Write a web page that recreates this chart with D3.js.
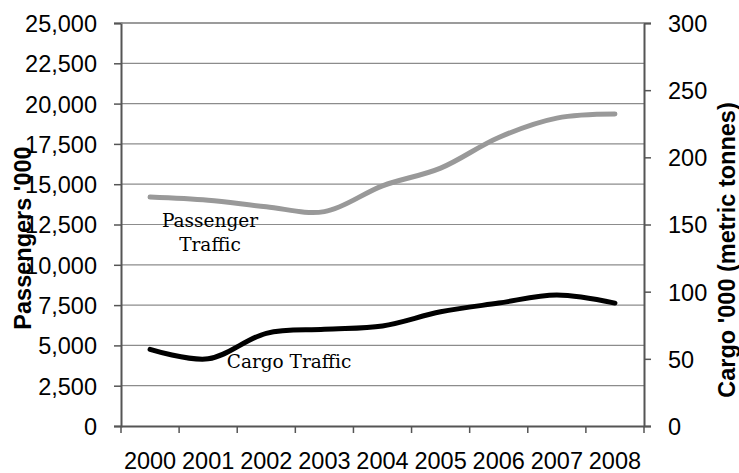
<!DOCTYPE html>
<html>
<head>
<meta charset="utf-8">
<script src="https://cdn.jsdelivr.net/npm/d3@7"></script>
<style>
  body { margin: 0; background: #fff; }
  svg text { font-family: "Liberation Sans", Arial, sans-serif; }
</style>
</head>
<body>
<svg id="chart" width="739" height="473"></svg>
<script>
// data
const years = ["2000", "2001", "2002", "2003", "2004", "2005", "2006", "2007", "2008"];
const passengers = [14200, 14000, 13600, 13300, 14900, 16000, 17900, 19100, 19350];
const cargo = [57, 50, 69, 72, 74.5, 85, 91.5, 97.5, 91.5];
const leftTicks = [0, 2500, 5000, 7500, 10000, 12500, 15000, 17500, 20000, 22500, 25000];
const rightTicks = [0, 50, 100, 150, 200, 250, 300];

const plotLeft = 121, plotRight = 644, plotTop = 23, plotBottom = 426;

const svg = d3.select("#chart");

const x = d3.scaleBand().domain(years).range([plotLeft, plotRight]).padding(0);
const yL = d3.scaleLinear().domain([0, 25000]).range([plotBottom, plotTop]);
const yR = d3.scaleLinear().domain([0, 300]).range([plotBottom, plotTop]);

const fmt = d3.format(",");

// gridlines
svg.append("g")
    .selectAll("line")
    .data(leftTicks.filter(d => d > 0))
    .join("line")
    .attr("x1", plotLeft).attr("x2", plotRight)
    .attr("y1", d => yL(d)).attr("y2", d => yL(d))
    .attr("stroke", "#8c8c8c")
    .attr("stroke-width", 1.2);

// left axis
const gL = svg.append("g")
    .attr("transform", "translate(" + plotLeft + ",0)")
    .call(d3.axisLeft(yL).tickValues(leftTicks).tickFormat(fmt).tickSize(7).tickPadding(17));
gL.select(".domain").attr("stroke", "#555").attr("stroke-width", 2);
gL.selectAll(".tick line").attr("stroke", "#555").attr("stroke-width", 1.5);
gL.selectAll("text").attr("font-size", 23.5).attr("fill", "#000").attr("dy", "0.36em");

// right axis
const gR = svg.append("g")
    .attr("transform", "translate(" + plotRight + ",0)")
    .call(d3.axisRight(yR).tickValues(rightTicks).tickSize(7).tickPadding(17));
gR.select(".domain").attr("stroke", "#555").attr("stroke-width", 2);
gR.selectAll(".tick line").attr("stroke", "#555").attr("stroke-width", 1.5);
gR.selectAll("text").attr("font-size", 23.5).attr("fill", "#000").attr("dy", "0.36em");

// bottom axis: ticks at band boundaries, labels at band centres
const gB = svg.append("g")
    .attr("transform", "translate(0," + plotBottom + ")")
    .call(d3.axisBottom(x).tickSize(0).tickPadding(26));
gB.select(".domain").attr("stroke", "#555").attr("stroke-width", 2);
gB.selectAll("text").attr("font-size", 23.5).attr("fill", "#000");
gB.selectAll(".bound")
    .data(years.map(d => x(d)).concat([plotRight]))
    .join("line")
    .attr("class", "bound")
    .attr("x1", d => d).attr("x2", d => d)
    .attr("y1", 0).attr("y2", 7)
    .attr("stroke", "#555").attr("stroke-width", 1.5);

// top border
svg.append("line")
    .attr("x1", plotLeft).attr("x2", plotRight)
    .attr("y1", plotTop).attr("y2", plotTop)
    .attr("stroke", "#8c8c8c").attr("stroke-width", 1.5);

// lines
const cx = d => x(d) + x.bandwidth() / 2;

const passLine = d3.line()
    .x((d, i) => cx(years[i]))
    .y(d => yL(d))
    .curve(d3.curveCatmullRom.alpha(0.5));

const cargoLine = d3.line()
    .x((d, i) => cx(years[i]))
    .y(d => yR(d))
    .curve(d3.curveCatmullRom.alpha(0.5));

svg.append("path")
    .datum(passengers)
    .attr("d", passLine)
    .attr("fill", "none")
    .attr("stroke", "#999")
    .attr("stroke-width", 5)
    .attr("stroke-linecap", "round");

svg.append("path")
    .datum(cargo)
    .attr("d", cargoLine)
    .attr("fill", "none")
    .attr("stroke", "#000")
    .attr("stroke-width", 5)
    .attr("stroke-linecap", "round");

// annotations
const serif = "'DejaVu Serif', Georgia, serif";
const note = svg.append("g").attr("fill", "#000");

note.append("text")
    .attr("x", 210).attr("y", 227)
    .attr("text-anchor", "middle")
    .attr("font-size", 18.5)
    .style("font-family", serif)
    .text("Passenger");
note.append("text")
    .attr("x", 210).attr("y", 251)
    .attr("text-anchor", "middle")
    .attr("font-size", 18.5)
    .style("font-family", serif)
    .text("Traffic");
note.append("text")
    .attr("x", 289).attr("y", 368)
    .attr("text-anchor", "middle")
    .attr("font-size", 18.5)
    .style("font-family", serif)
    .text("Cargo Traffic");

// axis titles
svg.append("text")
    .attr("transform", "translate(31,238) rotate(-90)")
    .attr("text-anchor", "middle")
    .attr("font-size", 23.5)
    .attr("font-weight", "bold")
    .text("Passengers '000");

svg.append("text")
    .attr("transform", "translate(735,250) rotate(-90)")
    .attr("text-anchor", "middle")
    .attr("font-size", 23.5)
    .attr("font-weight", "bold")
    .text("Cargo '000 (metric tonnes)");
</script>
</body>
</html>
